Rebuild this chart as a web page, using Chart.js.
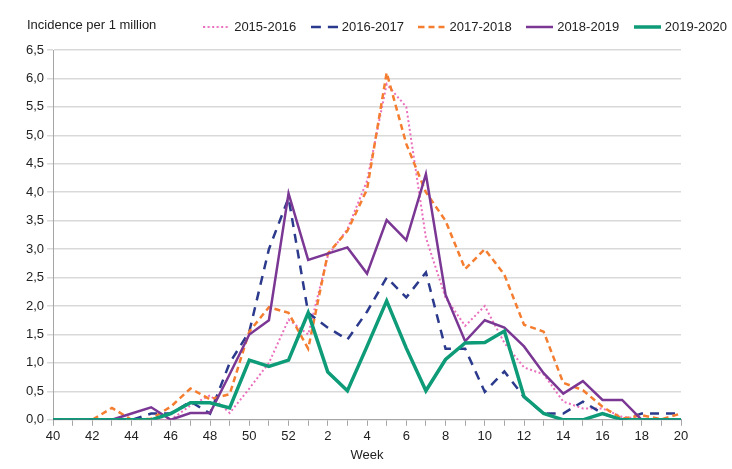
<!DOCTYPE html>
<html lang="en">
  <head>
    <meta charset="UTF-8" />
    <title>Incidence per week</title>
    <script src="https://cdn.jsdelivr.net/npm/chart.js@4.4.1/dist/chart.umd.min.js"></script>
    <style>
      body { margin: 0; background: #fff; }
    </style>
  </head>
  <body>
    <canvas id="myChart" width="732" height="469"></canvas>
    <script>
      const weeks = ["40", "41", "42", "43", "44", "45", "46", "47", "48", "49", "50", "51", "52",
        "1", "2", "3", "4", "5", "6", "7", "8", "9", "10", "11", "12", "13", "14", "15", "16", "17", "18", "19", "20"]

      const s2015 = [0, 0, 0, 0, 0, 0, 0, 0.25, 0.43, 0.12, 0.55, 1.0, 1.76, 1.5, 2.88, 3.35, 4.2, 5.9, 5.5,
        3.2, 2.15, 1.65, 2.0, 1.35, 0.92, 0.8, 0.32, 0.2, 0.2, 0.05, 0.02, 0, 0]
      const s2016 = [0, 0, 0, 0, 0, 0.11, 0.11, 0.32, 0.11, 1.0, 1.55, 3.0, 3.9, 1.88, 1.62, 1.41, 1.9, 2.5, 2.15,
        2.59, 1.25, 1.25, 0.49, 0.85, 0.4, 0.11, 0.11, 0.32, 0.11, 0, 0.11, 0.11, 0.11]
      const s2017 = [0, 0, 0, 0.21, 0, 0.02, 0.23, 0.55, 0.36, 0.45, 1.55, 1.98, 1.88, 1.25, 2.92, 3.32, 4.05, 6.1, 4.85,
        4.0, 3.5, 2.65, 3.0, 2.55, 1.67, 1.55, 0.65, 0.52, 0.23, 0.02, 0.08, 0.01, 0.11]
      const s2018 = [0, 0, 0, 0, 0.11, 0.22, 0, 0.12, 0.12, 0.8, 1.5, 1.75, 3.98, 2.81, 2.92, 3.03, 2.57, 3.51, 3.16,
        4.32, 2.2, 1.38, 1.75, 1.62, 1.29, 0.82, 0.46, 0.68, 0.35, 0.35, 0, 0, 0]
      const s2019 = [0, 0, 0, 0, 0, 0, 0.11, 0.3, 0.3, 0.21, 1.05, 0.94, 1.05, 1.88, 0.84, 0.51, 1.29, 2.09, 1.26,
        0.51, 1.06, 1.35, 1.36, 1.56, 0.41, 0.11, 0, 0, 0.11, 0, 0, 0, 0]

      const font = "'Liberation Sans', Arial, sans-serif"

      // y axis title sits on the same row as the legend; legend nudged to match
      const yTitle = {
        id: "yTitle",
        afterLayout(chart) {
          const lg = chart.legend
          lg.top -= 6.5
          lg.bottom -= 6.5
          lg.left += 16
          lg.right += 16
        },
        afterDraw(chart) {
          const ctx = chart.ctx
          ctx.save()
          ctx.font = "13px " + font
          ctx.fillStyle = "#222"
          ctx.textBaseline = "middle"
          ctx.fillText("Incidence per 1 million", 27, 25)
          ctx.restore()
        },
      }

      // small canvas with the line sample, used as legend point style
      function sample(color, width, dash) {
        const c = document.createElement("canvas")
        c.width = 27
        c.height = 6
        const g = c.getContext("2d")
        g.strokeStyle = color
        g.lineWidth = width
        g.setLineDash(dash)
        g.beginPath()
        g.moveTo(0, 3)
        g.lineTo(27, 3)
        g.stroke()
        return c
      }

      function line(label, data, color, width, dash, order, legendDash) {
        return {
          label: label,
          data: data,
          borderColor: color,
          backgroundColor: color,
          borderWidth: width,
          borderDash: dash,
          pointRadius: 0,
          pointStyle: sample(color, width, legendDash),
          tension: 0,
          fill: false,
          order: order,
        }
      }

      const ctx = document.getElementById("myChart").getContext("2d")
      const myChart = new Chart(ctx, {
        type: "line",
        data: {
          labels: weeks,
          datasets: [
            line("2015-2016", s2015, "#ea6fbd", 2, [2, 2.5], 5, [2, 2.5]),
            line("2016-2017", s2016, "#2b3a8c", 2.5, [9, 7], 4, [10, 7]),
            line("2017-2018", s2017, "#f47d30", 2.5, [6, 4], 3, [6, 4]),
            line("2018-2019", s2018, "#7b3794", 2.5, [], 2, []),
            line("2019-2020", s2019, "#0e9b78", 3.5, [], 1, []),
          ],
        },
        options: {
          responsive: false,
          animation: false,
          devicePixelRatio: 1,
          layout: { padding: { left: 23, right: 4, top: 10, bottom: 6 } },
          plugins: {
            tooltip: { enabled: false },
            legend: {
              position: "top",
              align: "end",
              labels: {
                usePointStyle: true,
                pointStyleWidth: 22,
                color: "#222",
                font: { family: font, size: 13 },
                padding: 17,
                sort: (a, b) => a.datasetIndex - b.datasetIndex,
              },
            },
          },
          scales: {
            x: {
              offset: false,
              grid: { drawOnChartArea: false, drawTicks: true, tickLength: 6, color: "#a6a6a6" },
              border: { color: "#a6a6a6" },
              ticks: {
                autoSkip: false,
                maxRotation: 0,
                color: "#222",
                font: { family: font, size: 13 },
                callback: function (value, index) {
                  return index % 2 === 0 ? weeks[index] : ""
                },
              },
              title: { display: true, text: "Week", color: "#222", font: { family: font, size: 13 }, padding: 0 },
            },
            y: {
              min: 0,
              max: 6.5,
              grid: { color: "#d9d9d9", tickLength: 6, lineWidth: 1.5 },
              border: { color: "#a6a6a6" },
              ticks: {
                stepSize: 0.5,
                color: "#222",
                font: { family: font, size: 13 },
                callback: (v) => v.toFixed(1).replace(".", ","),
              },
            },
            // empty right margin so the plot ends where the reference does
            yRight: {
              position: "right",
              display: true,
              grid: { display: false },
              border: { display: false },
              ticks: { display: false },
              afterFit: (scale) => { scale.width = 47 },
            },
          },
        },
        plugins: [yTitle],
      })
    </script>
  </body>
</html>
